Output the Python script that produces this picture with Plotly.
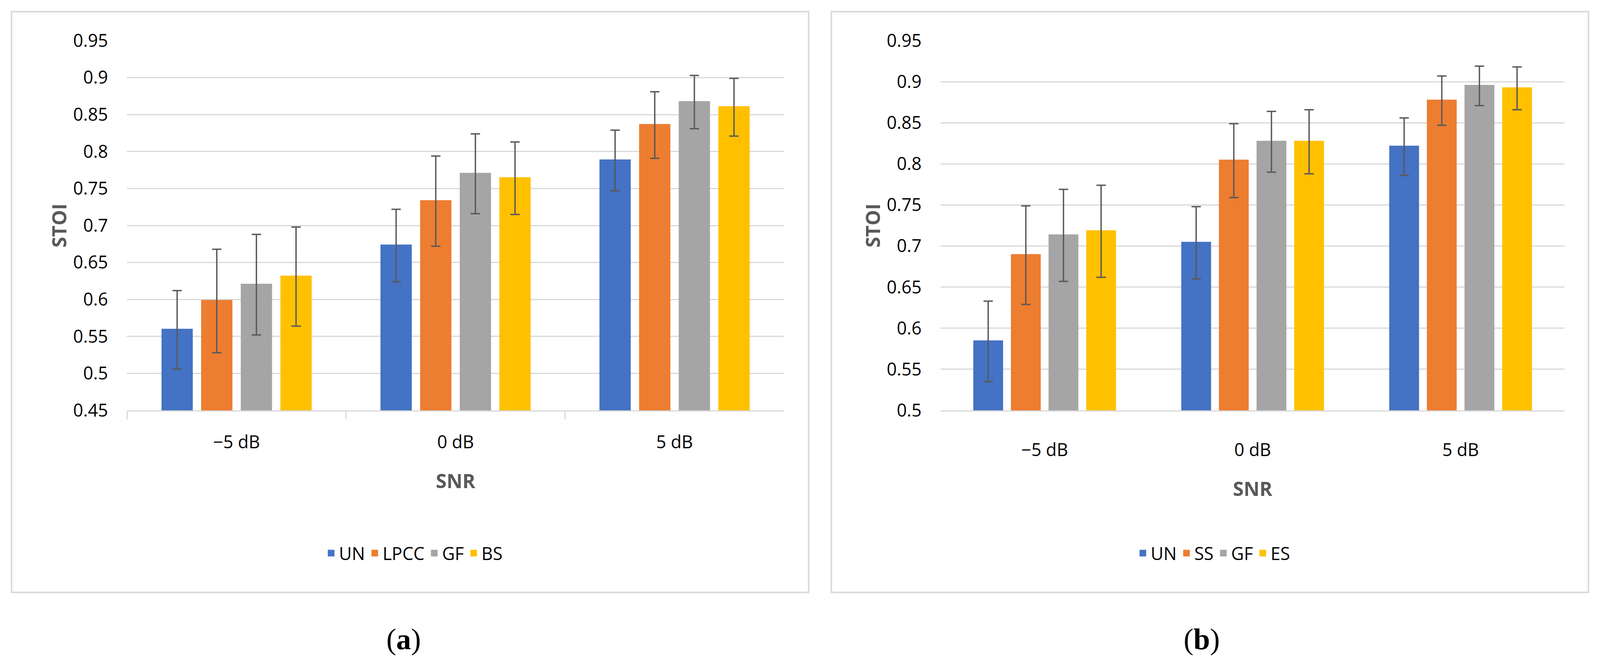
import plotly.graph_objects as go

# ---------------- data ----------------
snr_labels = ["\u22125 dB", "0 dB", "5 dB"]

series_a = ["UN", "LPCC", "GF", "BS"]
a_UN = [0.559, 0.673, 0.788]
a_LPCC = [0.598, 0.733, 0.836]
a_GF = [0.620, 0.770, 0.867]
a_BS = [0.631, 0.764, 0.860]
a_UN_err = [0.053, 0.049, 0.041]
a_LPCC_err = [0.070, 0.061, 0.045]
a_GF_err = [0.068, 0.054, 0.036]
a_BS_err = [0.067, 0.049, 0.039]

series_b = ["UN", "SS", "GF", "ES"]
b_UN = [0.584, 0.704, 0.821]
b_SS = [0.689, 0.804, 0.877]
b_GF = [0.713, 0.827, 0.895]
b_ES = [0.718, 0.827, 0.892]
b_UN_err = [0.049, 0.044, 0.035]
b_SS_err = [0.060, 0.045, 0.030]
b_GF_err = [0.056, 0.037, 0.024]
b_ES_err = [0.056, 0.039, 0.026]

yticks_a = [0.45, 0.5, 0.55, 0.6, 0.65, 0.7, 0.75, 0.8, 0.85, 0.9, 0.95]
yticks_a_text = ["0.45", "0.5", "0.55", "0.6", "0.65", "0.7", "0.75", "0.8", "0.85", "0.9", "0.95"]
yticks_b = [0.5, 0.55, 0.6, 0.65, 0.7, 0.75, 0.8, 0.85, 0.9, 0.95]
yticks_b_text = ["0.5", "0.55", "0.6", "0.65", "0.7", "0.75", "0.8", "0.85", "0.9", "0.95"]

# ---------------- style ----------------
W, H = 4345, 1699          # reference frame used for relative placement
FIG_H = 1683
colors = ["#4472C4", "#ED7D31", "#A5A5A5", "#FFC000"]
FONT = "Open Sans"
GRID = "#D9D9D9"
ERR = "#595959"
TITLE_GRAY = "#595959"

fig = go.Figure()

vals_a = [a_UN, a_LPCC, a_GF, a_BS]
errs_a = [a_UN_err, a_LPCC_err, a_GF_err, a_BS_err]
vals_b = [b_UN, b_SS, b_GF, b_ES]
errs_b = [b_UN_err, b_SS_err, b_GF_err, b_ES_err]

for name, v, e, c in zip(series_a, vals_a, errs_a, colors):
    fig.add_trace(go.Bar(
        x=snr_labels, y=v, name=name,
        marker=dict(color=c, line=dict(color=c, width=5)),
        error_y=dict(type="data", array=e, color=ERR, thickness=3.5, width=12),
        xaxis="x", yaxis="y", legend="legend"))

for name, v, e, c in zip(series_b, vals_b, errs_b, colors):
    fig.add_trace(go.Bar(
        x=snr_labels, y=v, name=name,
        marker=dict(color=c, line=dict(color=c, width=5)),
        error_y=dict(type="data", array=e, color=ERR, thickness=3.5, width=12),
        xaxis="x2", yaxis="y2", legend="legend2"))


def px_x(p):
    return p / W


def px_y(p):
    return 1 - p / H


ydom = [px_y(1052), px_y(97)]
tickfont = dict(family=FONT, size=45, color="#000000")
titlefont = dict(family=FONT, size=50, color=TITLE_GRAY)

common_x = dict(type="category", showgrid=False, zeroline=False, automargin=False,
                tickfont=tickfont, showline=True, linecolor=GRID, linewidth=3)
common_y = dict(showgrid=True, gridcolor=GRID, gridwidth=3, zeroline=False,
                showline=False, ticks="", automargin=False, tickfont=tickfont,
                ticklabelstandoff=48)

fig.update_layout(
    template="none",
    autosize=True,
    height=FIG_H,
    margin=dict(l=0, r=0, t=0, b=0),
    paper_bgcolor="white", plot_bgcolor="white",
    barmode="group", bargap=0.276, bargroupgap=0.26,
    font=dict(family=FONT, color="#000000"),
    xaxis=dict(common_x, domain=[px_x(338), px_x(2129)], anchor="y",
               ticks="outside", tickson="boundaries", ticklen=20, tickwidth=3,
               tickcolor=GRID, ticklabelstandoff=40,
               title=dict(text="<b>SNR</b>", font=titlefont, standoff=55)),
    yaxis=dict(common_y, domain=ydom, range=[0.45, 0.95], anchor="x",
               tickmode="array", tickvals=yticks_a, ticktext=yticks_a_text,
               title=dict(text="<b>STOI</b>", font=titlefont, standoff=0)),
    xaxis2=dict(common_x, domain=[px_x(2556), px_x(4257)], anchor="y2",
                ticks="", ticklabelstandoff=60,
                title=dict(text="<b>SNR</b>", font=titlefont, standoff=55)),
    yaxis2=dict(common_y, domain=ydom, range=[0.5, 0.95], anchor="x2",
                tickmode="array", tickvals=yticks_b, ticktext=yticks_b_text,
                title=dict(text="<b>STOI</b>", font=titlefont, standoff=0)),
    legend=dict(orientation="h", x=px_x(1120), y=px_y(1421), xanchor="center",
                yanchor="middle", font=dict(family=FONT, size=45, color="#000000"),
                bgcolor="rgba(0,0,0,0)", traceorder="normal"),
    legend2=dict(orientation="h", x=px_x(3300), y=px_y(1421), xanchor="center",
                 yanchor="middle", font=dict(family=FONT, size=45, color="#000000"),
                 bgcolor="rgba(0,0,0,0)", traceorder="normal"),
    shapes=[
        dict(type="rect", xref="paper", yref="paper",
             x0=px_x(23), x1=px_x(2196), y0=px_y(1522), y1=px_y(22),
             line=dict(color=GRID, width=4), fillcolor="rgba(0,0,0,0)", layer="below"),
        dict(type="rect", xref="paper", yref="paper",
             x0=px_x(2258), x1=px_x(4322), y0=px_y(1522), y1=px_y(22),
             line=dict(color=GRID, width=4), fillcolor="rgba(0,0,0,0)", layer="below"),
    ],
    annotations=[
        dict(text="(<b>a</b>)", xref="paper", yref="paper", x=px_x(1092), y=px_y(1643),
             xanchor="center", yanchor="middle", showarrow=False,
             font=dict(family="Liberation Serif", size=76, color="#000000")),
        dict(text="(<b>b</b>)", xref="paper", yref="paper", x=px_x(3268), y=px_y(1643),
             xanchor="center", yanchor="middle", showarrow=False,
             font=dict(family="Liberation Serif", size=76, color="#000000")),
    ],
)

fig.write_html("out.html")
